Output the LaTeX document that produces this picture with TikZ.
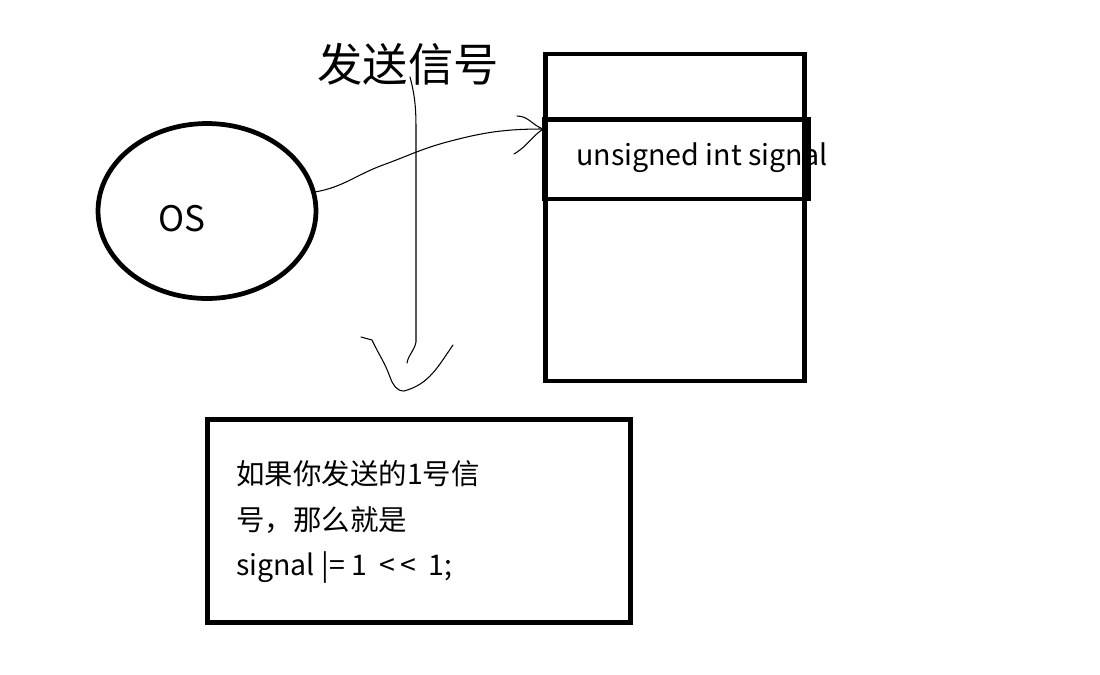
\documentclass[tikz,border=0pt]{standalone}
\usepackage{fontspec}
\setmainfont{Noto Sans CJK SC}
\usepackage{tikz}
\usetikzlibrary{shapes.geometric}

\begin{document}
\begin{tikzpicture}
[x=0.02cm, y=-0.02cm,
 box/.style={rectangle, draw=black, line width=2.7pt, inner sep=0pt},
 oval/.style={ellipse, draw=black, line width=2.7pt, inner sep=0pt},
 hand/.style={draw=black, line width=0.6pt, line cap=round, line join=round}]
\useasboundingbox (0,0) rectangle (1100,674);
\node[oval, minimum width=4.36cm, minimum height=3.5cm] (os) at (207,211) {};
\node[font=\fontsize{20pt}{24pt}\selectfont] (oslabel) at (182,219) {OS};
\node[box, minimum width=5.18cm, minimum height=6.54cm] (mem) at (675,217.5) {};
\node[box, minimum width=5.29cm, minimum height=1.59cm] (field) at (676.7,159.2) {};
\node[anchor=west, font=\fontsize{16.3pt}{19pt}\selectfont] (fieldlabel) at (570,158) {unsigned int signal};
\node[font=\fontsize{25.8pt}{30pt}\selectfont] (title) at (408,64) {发送信号};
\node[box, minimum width=8.46cm, minimum height=4.06cm] (cmd) at (419,521) {};
\node[anchor=north west, align=left, inner sep=0pt, font=\fontsize{16.2pt}{26pt}\selectfont] (cmdlabel) at (236,460)
  {如果你发送的1号信\\号，那么就是\\signal |=\ 1\ \ <\,<\ \ 1;};
\coordinate (tip) at (543,129);
\coordinate (v0) at (410,77);
\coordinate (v1) at (407,363);
\draw[hand] (os.10) to[out=10,in=200] (383,165) to[out=20,in=195] (447,142)
  to[out=15,in=180] (tip);
\draw[hand] (517,116) to[out=0,in=160] (tip) to[out=-145,in=30] (514,154);
\draw[hand] (v0) to[out=-75,in=90] (416,140) -- (416,342) to[out=-100,in=80] (v1);
\draw[hand] (361,337) -- (372,340) to[out=-65,in=110] (390,377)
  to[out=-70,in=180] (404,391) to[out=15,in=-125] (453,345);
\end{tikzpicture}
\end{document}
